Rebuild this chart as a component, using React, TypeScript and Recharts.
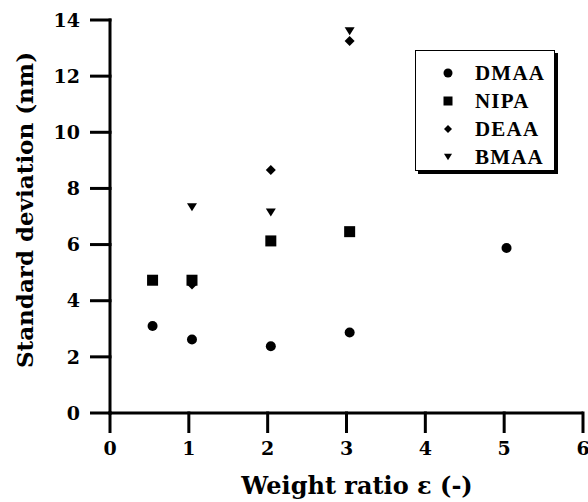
import React from "react";
import { ScatterChart, Scatter, XAxis, YAxis, Legend } from "recharts";

const seriesNames = ["DMAA", "NIPA", "DEAA", "BMAA"];
const dmaaX = [0.54, 1.04, 2.04, 3.04, 5.03];
const dmaaY = [3.1, 2.62, 2.38, 2.87, 5.88];
const nipaX = [0.54, 1.04, 2.04, 3.04];
const nipaY = [4.73, 4.73, 6.13, 6.46];
const deaaX = [1.04, 2.04, 3.04];
const deaaY = [4.58, 8.66, 13.25];
const bmaaX = [1.04, 2.04, 3.04];
const bmaaY = [7.33, 7.14, 13.6];
const xTicks = [0, 1, 2, 3, 4, 5, 6];
const yTicks = [0, 2, 4, 6, 8, 10, 12, 14];
const xTitle = "Weight ratio  \u03b5 (-)";
const yTitle = "Standard deviation (nm)";

const toPts = (xs: number[], ys: number[]) => xs.map((x, i) => ({ x, y: ys[i] }));

const TICK_FONT = "'DejaVu Serif', serif";
const TICK_SIZE = 20;
const TICK_MARGIN = 9;

type ShapeKind = "circle" | "square" | "diamond" | "triangle";
const shapeKinds: ShapeKind[] = ["circle", "square", "diamond", "triangle"];

function Marker({ kind, cx, cy, s }: { kind: ShapeKind; cx: number; cy: number; s: number }) {
  if (kind === "circle") return <circle cx={cx} cy={cy} r={s / 2} fill="#000" />;
  if (kind === "square")
    return <rect x={cx - s / 2} y={cy - s / 2} width={s} height={s} fill="#000" />;
  if (kind === "diamond") {
    const h = s / 2;
    return <polygon points={`${cx},${cy - h} ${cx + h},${cy} ${cx},${cy + h} ${cx - h},${cy}`} fill="#000" />;
  }
  const w = s / 2;
  const t = s * 0.4;
  return <polygon points={`${cx - w},${cy - t} ${cx + w},${cy - t} ${cx},${cy + t}`} fill="#000" />;
}

const mkShape = (kind: ShapeKind, s: number) => (props: any) =>
  <Marker kind={kind} cx={props.cx} cy={props.cy} s={s} />;

function LegendBox(props: any) {
  const payload = [...(props.payload || [])].sort(
    (a: any, b: any) => seriesNames.indexOf(a.value) - seriesNames.indexOf(b.value)
  );
  return (
    <div
      style={{
        width: 140,
        height: 121,
        border: "1.5px solid #000",
        boxShadow: "3px 3px 0 #000",
        background: "#fff",
        boxSizing: "border-box",
        paddingTop: 8,
      }}
    >
      {payload.map((p: any, i: number) => {
        const idx = seriesNames.indexOf(p.value);
        return (
          <div key={i} style={{ display: "flex", alignItems: "center", height: 28 }}>
            <svg width={59} height={28} style={{ flex: "none" }}>
              <Marker kind={shapeKinds[idx]} cx={32} cy={14} s={idx >= 2 ? 8 : 9} />
            </svg>
            <span
              style={{
                fontFamily: "'Liberation Serif', serif",
                fontWeight: "bold",
                fontSize: 21,
                letterSpacing: 1.2,
                lineHeight: "28px",
                color: "#000",
              }}
            >
              {p.value}
            </span>
          </div>
        );
      })}
    </div>
  );
}

const XTick = (props: any) => {
  const { x, y, payload } = props;
  const y0 = y - TICK_MARGIN;
  return (
    <g>
      <rect x={x - 1.5} y={y0 - TICK_SIZE - 1.5} width={3} height={TICK_SIZE + 1.5} fill="#000" />
      <text x={x} y={y} dy="0.71em" textAnchor="middle" fontFamily={TICK_FONT} fontWeight="bold" fontSize={19} fill="#000">
        {payload.value}
      </text>
    </g>
  );
};

const YTick = (props: any) => {
  const { x, y, payload } = props;
  const x0 = x + TICK_MARGIN;
  return (
    <g>
      <rect x={x0} y={y - 1.5} width={TICK_SIZE + 1.5} height={3} fill="#000" />
      <text x={x - 1} y={y} dy="0.355em" textAnchor="end" fontFamily={TICK_FONT} fontWeight="bold" fontSize={19} fill="#000">
        {payload.value}
      </text>
    </g>
  );
};

const YTitle = (props: any) => {
  const vb = props.viewBox || {};
  // vertical axis line drawn as a filled rect along the axis box's right edge
  const ax = (vb.x ?? 0) + (vb.width ?? 110);
  return (
    <g>
      <rect x={ax - 1.5} y={(vb.y ?? 20) - 1.5} width={3} height={(vb.height ?? 393) + 3} fill="#000" />
      <text
        x={33}
        y={210}
        transform="rotate(-90 33 210)"
        textAnchor="middle"
        fontFamily={TICK_FONT}
        fontWeight="bold"
        fontSize={23}
        fill="#000"
      >
        {yTitle}
      </text>
    </g>
  );
};

const XTitle = (props: any) => {
  const vb = props.viewBox || {};
  const ay = vb.y ?? 413;
  return (
    <g>
      <rect x={(vb.x ?? 110) - 1.5} y={ay - 1.5} width={(vb.width ?? 473) + 1.5} height={3} fill="#000" />
      <text
        x={357}
        y={494}
        textAnchor="middle"
        fontFamily={TICK_FONT}
        fontWeight="bold"
        fontSize={24}
        fill="#000"
      >
        {xTitle}
      </text>
    </g>
  );
};

export default function App() {
  return (
    <div style={{ position: "absolute", left: 0, top: 0, background: "#fff" }}>
      <ScatterChart width={588} height={502} margin={{ top: 20, right: 5, left: 0, bottom: 0 }}>
        <XAxis
          type="number"
          dataKey="x"
          domain={[0, 6]}
          ticks={xTicks}
          height={89}
          tickSize={TICK_SIZE}
          tickMargin={TICK_MARGIN}
          axisLine={false}
          tickLine={false}
          tick={<XTick />}
          interval={0}
          label={<XTitle />}
        />
        <YAxis
          type="number"
          dataKey="y"
          domain={[0, 14]}
          ticks={yTicks}
          width={110}
          tickSize={TICK_SIZE}
          tickMargin={TICK_MARGIN}
          axisLine={false}
          tickLine={false}
          tick={<YTick />}
          interval={0}
          label={<YTitle />}
        />
        <Legend
          layout="horizontal"
          verticalAlign="middle"
          align="center"
          content={<LegendBox />}
          wrapperStyle={{ position: "absolute", left: 415, top: 50, width: 140, height: 121 }}
        />
        <Scatter name={seriesNames[0]} data={toPts(dmaaX, dmaaY)} shape={mkShape("circle", 10)} isAnimationActive={false} />
        <Scatter name={seriesNames[1]} data={toPts(nipaX, nipaY)} shape={mkShape("square", 11)} isAnimationActive={false} />
        <Scatter name={seriesNames[2]} data={toPts(deaaX, deaaY)} shape={mkShape("diamond", 10)} isAnimationActive={false} />
        <Scatter name={seriesNames[3]} data={toPts(bmaaX, bmaaY)} shape={mkShape("triangle", 10)} isAnimationActive={false} />
      </ScatterChart>
    </div>
  );
}
